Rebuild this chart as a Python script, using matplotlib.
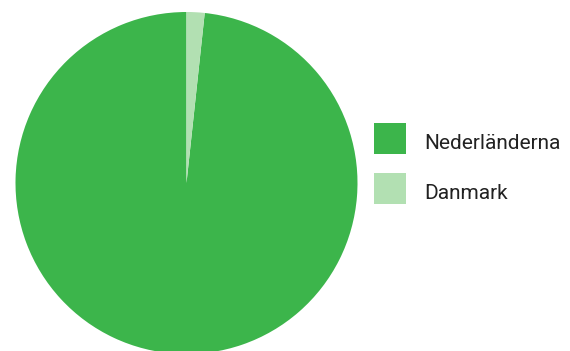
import matplotlib
matplotlib.use("Agg")
import matplotlib.pyplot as plt
from matplotlib.patches import Rectangle

categories = ["Nederländerna", "Danmark"]
values = [98.3, 1.7]
colors = ["#3cb54b", "#b2e0b2"]

W, H = 570, 351
fig = plt.figure(figsize=(W / 100, H / 100), dpi=100)
fig.patch.set_facecolor("white")

cx, cy, r = 186.5, 183, 171
ax = fig.add_axes([(cx - r) / W, (H - cy - r) / H, 2 * r / W, 2 * r / H])
ax.pie(values, colors=colors, startangle=90, counterclock=True, radius=1,
       wedgeprops=dict(linewidth=0, antialiased=True))
ax.set_xlim(-1, 1)
ax.set_ylim(-1, 1)
ax.set_aspect("auto")
ax.axis("off")

# legend
lx, ly0, sw, sh, gap = 374, 123, 32, 31, 50
baselines = [148.5, 199]
for i, (cat, col) in enumerate(zip(categories, colors)):
    top = ly0 + i * gap
    fig.patches.append(Rectangle((lx / W, (H - top - sh) / H), sw / W, sh / H,
                                 transform=fig.transFigure, facecolor=col,
                                 edgecolor="none"))
    fig.text(424.5 / W, (H - baselines[i]) / H, cat, ha="left", va="baseline",
             fontsize=15, family="Roboto", color="#222222")

fig.savefig("out.png", dpi=100)
